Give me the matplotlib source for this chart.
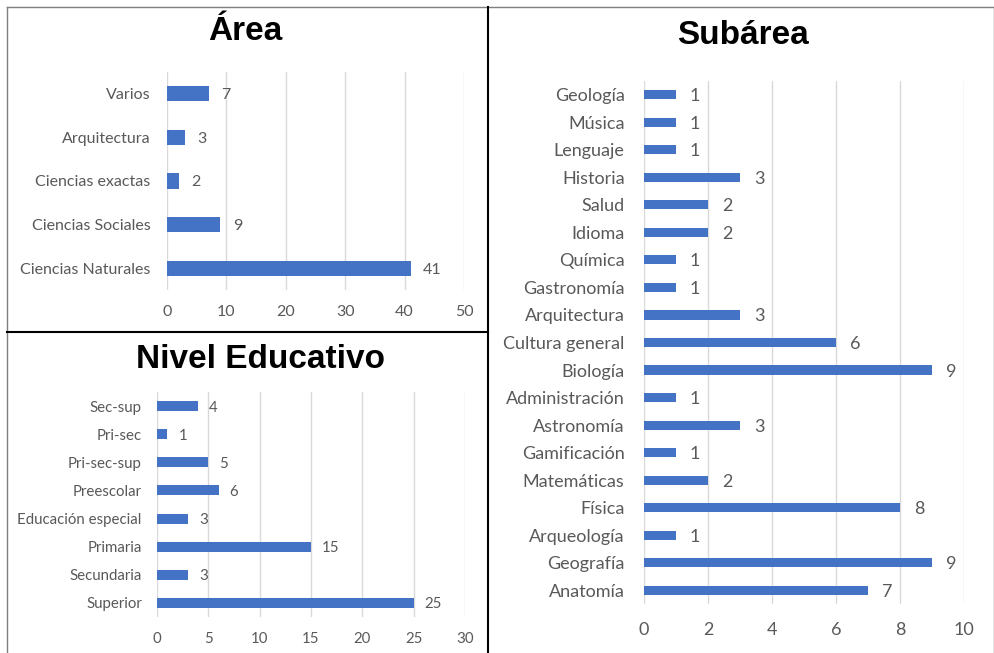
import matplotlib
matplotlib.use("Agg")
import matplotlib.pyplot as plt
from matplotlib.lines import Line2D

W, H = 995, 653
BAR = "#4472C4"
GRID = "#D9D9D9"
TXT = "#595959"

# Área
area_labels = ["Ciencias Naturales", "Ciencias Sociales", "Ciencias exactas", "Arquitectura", "Varios"]
area_values = [41, 9, 2, 3, 7]
area_ticks = [0, 10, 20, 30, 40, 50]

# Nivel Educativo
nivel_labels = ["Superior", "Secundaria", "Primaria", "Educación especial",
                "Preescolar", "Pri-sec-sup", "Pri-sec", "Sec-sup"]
nivel_values = [25, 3, 15, 3, 6, 5, 1, 4]
nivel_ticks = [0, 5, 10, 15, 20, 25, 30]

# Subárea
sub_labels = ["Anatomía", "Geografía", "Arqueología", "Física", "Matemáticas",
              "Gamificación", "Astronomía", "Administración", "Biología",
              "Cultura general", "Arquitectura", "Gastronomía", "Química",
              "Idioma", "Salud", "Historia", "Lenguaje", "Música", "Geología"]
sub_values = [7, 9, 1, 8, 2, 1, 3, 1, 9, 6, 3, 1, 1, 2, 2, 3, 1, 1, 1]
sub_ticks = [0, 2, 4, 6, 8, 10]

FONT = ["Lato", "DejaVu Sans"]
TITLE_FONT = ["Liberation Sans", "DejaVu Sans"]

fig = plt.figure(figsize=(W / 100, H / 100), dpi=100)
fig.patch.set_facecolor("white")


def px_axes(left, top, right, bottom):
    return fig.add_axes([left / W, 1 - bottom / H, (right - left) / W, (bottom - top) / H])


def panel(rect, labels, values, ticks, bar_h, fs, pad_x, pad_y, val_off):
    ax = px_axes(*rect)
    n = len(labels)
    y = list(range(n))
    ax.barh(y, values, height=bar_h, color=BAR, zorder=3)
    ax.set_xlim(ticks[0], ticks[-1])
    ax.set_ylim(-0.5, n - 0.5)
    ax.set_xticks(ticks)
    ax.set_yticks(y)
    ax.set_yticklabels(labels, fontfamily=FONT, fontsize=fs, color=TXT)
    ax.set_xticklabels([str(t) for t in ticks], fontfamily=FONT, fontsize=fs, color=TXT)
    ax.tick_params(axis="both", length=0)
    ax.tick_params(axis="x", pad=pad_x)
    ax.tick_params(axis="y", pad=pad_y)
    ax.grid(axis="x", color=GRID, linewidth=1, zorder=0)
    for s in ax.spines.values():
        s.set_visible(False)
    for yi, v in zip(y, values):
        ax.annotate(str(v), (v, yi), xytext=(val_off, 0), textcoords="offset points",
                    va="center_baseline", ha="left", fontfamily=FONT, fontsize=fs, color=TXT)
    return ax


panel((167, 72, 464, 290), area_labels, area_values, area_ticks, 0.35, 11.5, 11, 12, 9)
panel((157, 392, 465, 617), nivel_labels, nivel_values, nivel_ticks, 0.36, 10.8, 11, 11, 8)
panel((644, 81, 964, 604), sub_labels, sub_values, sub_ticks, 0.33, 13, 13, 14, 10)

fig.text(245 / W, 1 - 32 / H, "Área", ha="center", va="center", fontsize=24,
         fontweight="bold", fontfamily=TITLE_FONT)
fig.text(260 / W, 1 - 360 / H, "Nivel Educativo", ha="center", va="center", fontsize=24,
         fontweight="bold", fontfamily=TITLE_FONT)
fig.text(743 / W, 1 - 35 / H, "Subárea", ha="center", va="center", fontsize=24,
         fontweight="bold", fontfamily=TITLE_FONT)


def fline(x0, y0, x1, y1, color, lw):
    fig.add_artist(Line2D([x0 / W, x1 / W], [1 - y0 / H, 1 - y1 / H],
                          transform=fig.transFigure, color=color, linewidth=lw))


# panel frames
fline(7, 7, 995, 7, "#7F7F7F", 1)
fline(7, 7, 7, 653, "#7F7F7F", 1)
fline(994, 7, 994, 653, "#7F7F7F", 1)
fline(488, 7, 488, 653, "black", 1.5)
fline(7, 332, 488, 332, "black", 1.5)

fig.savefig("out.png", dpi=100, facecolor="white")
